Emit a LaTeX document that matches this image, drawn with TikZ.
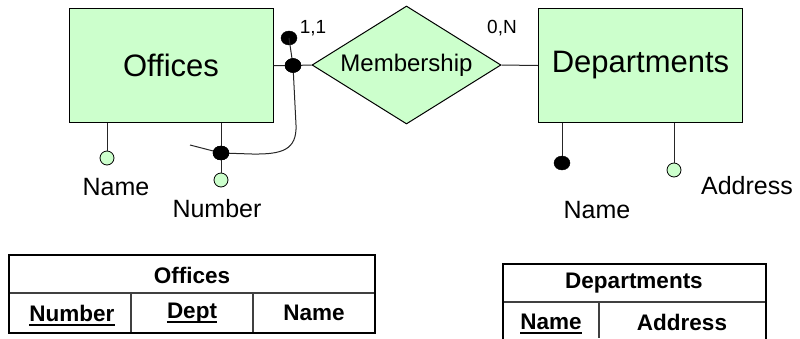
\documentclass[tikz,border=0pt]{standalone}
\usepackage{fontspec}
\setmainfont{Liberation Sans}
\usetikzlibrary{shapes.geometric}
\definecolor{ergreen}{HTML}{CCFFCC}
\begin{document}
\begin{tikzpicture}[x=1pt,y=-1pt,
  ent/.style={draw=black, fill=ergreen, line width=1pt, minimum width=204pt, minimum height=114pt, inner sep=0pt, font=\fontsize{31}{36}\selectfont},
  rel/.style={draw=black, fill=ergreen, line width=1pt, diamond, aspect=1.6, minimum width=189pt, minimum height=118pt, inner sep=0pt, font=\fontsize{24}{28}\selectfont},
  conn/.style={draw=black!85, line width=1pt},
  odot/.style={circle, draw=black, fill=ergreen, line width=0.8pt, minimum size=14pt, inner sep=0pt},
  bdot/.style={ellipse, draw=black, fill=black, minimum width=16pt, minimum height=14pt, inner sep=0pt},
  lbl/.style={inner sep=0pt, font=\fontsize{25}{30}\selectfont},
  card/.style={inner sep=0pt, font=\fontsize{19}{23}\selectfont},
  tbl/.style={inner sep=0pt, font=\bfseries\fontsize{22.5}{27}\selectfont},
  outer/.style={draw=black, line width=2.5pt},
  inner/.style={draw=black!75, line width=1.3pt},
  uline/.style={draw=black, line width=2pt}
]
\useasboundingbox (0,0) rectangle (800,338);

% entities and relationship
\node[ent] (off) at (171,65.5) {Offices};
\node[ent] (dep) at (640.5,65.5) {Departments};
\node[rel] (mem) at (406.5,65) {Membership};

% connectors
\node[bdot] (d1) at (293,65.5) {};
\node[bdot] (d0) at (289,38) {};
\draw[conn] (off.east) -- (d1.center) -- (mem.west);
\draw[conn] (mem.east) -- (dep.west);
\draw[conn] (d0.center) -- (d1.center);

% attributes of Offices
\node[odot] (a1) at (107,158) {};
\draw[conn] (off.south -| a1) -- (a1);
\node[odot] (a2) at (221,180) {};
\node[bdot] (d3) at (221,153) {};
\draw[conn] (off.south -| a2) -- (a2);
\coordinate (c1) at (296,125);
\coordinate (c2) at (252,154);
\coordinate (cend) at (190,145);
\draw[conn] (d1.center) -- (c1) .. controls (297,150) and (282,154.5) .. (c2) -- (d3.center) -- (cend);
\node[bdot] at (d1) {};
\node[bdot] at (d3) {};
\node[lbl] (l1) at (116,187) {Name};
\node[lbl] (l2) at (217,209) {Number};

% attributes of Departments
\node[bdot] (b1) at (562,163) {};
\draw[conn] (dep.south -| b1) -- (b1);
\node[odot] (a3) at (674,170) {};
\draw[conn] (dep.south -| a3) -- (a3);
\node[lbl] (l3) at (597,210) {Name};
\node[lbl] (l4) at (747,186) {Address};

% cardinalities
\node[card] (k1) at (313,28) {1,1};
\node[card] (k2) at (502,28) {0,N};

% table Offices
\draw[inner] (9,293) -- (375,293);
\draw[inner] (131,293) -- (131,333);
\draw[inner] (253,293) -- (253,333);
\draw[outer] (9,255) rectangle (375,333);
\node[tbl] (t0) at (192,275) {Offices};
\node[tbl] (t1) at (72,313) {Number};
\node[tbl] (t2) at (192,313) {Dept};
\node[tbl] (t3) at (314,313) {Name};
\draw[uline] ([yshift=-3.5pt]t1.base west) -- ([yshift=-3.5pt]t1.base east);
\draw[uline] ([yshift=-3.5pt]t2.base west) -- ([yshift=-3.5pt]t2.base east);

% table Departments
\draw[inner] (503,302) -- (766,302);
\draw[inner] (599,302) -- (599,338);
\draw[outer] (503,340) -- (503,264) -- (766,264) -- (766,340);
\node[tbl] (u0) at (634,283) {Departments};
\node[tbl] (u1) at (551,322) {Name};
\node[tbl] (u2) at (682,322) {Address};
\draw[uline] ([yshift=-3.5pt]u1.base west) -- ([yshift=-3.5pt]u1.base east);
\end{tikzpicture}
\end{document}
